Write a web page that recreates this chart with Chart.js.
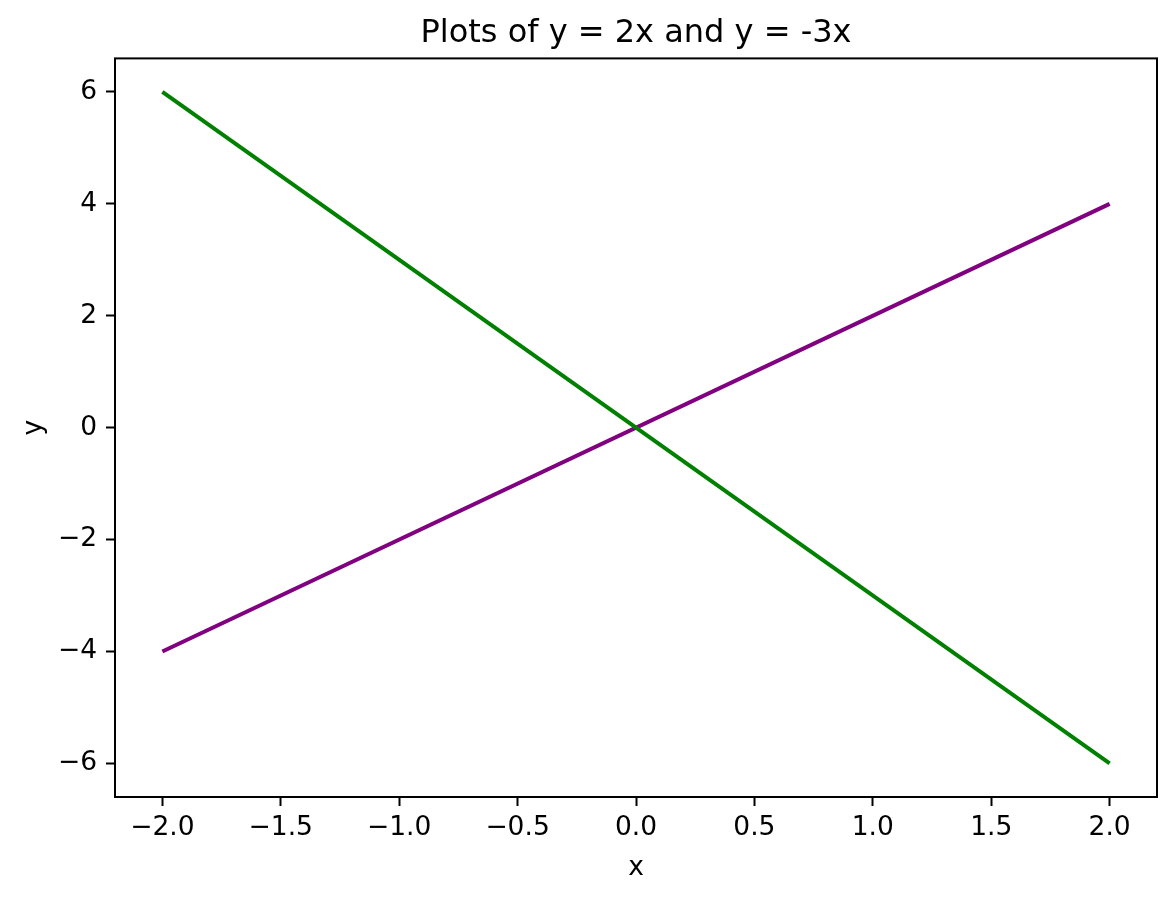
<!DOCTYPE html>
<html>
<head>
<meta charset="utf-8">
<script src="https://cdn.jsdelivr.net/npm/chart.js@4/dist/chart.umd.min.js"></script>
<style>
  html, body { margin: 0; padding: 0; background: #fff; }
  #wrap { width: 1176px; height: 900px; }
</style>
</head>
<body>
<div id="wrap"><canvas id="c" width="1176" height="900"></canvas></div>
<script>
// ---- data ----
const xValues = [-2, 2];
const yTwoX = [-4, 4];
const yMinusThreeX = [6, -6];
const xTicks = [-2.0, -1.5, -1.0, -0.5, 0.0, 0.5, 1.0, 1.5, 2.0];
const yTicks = [-6, -4, -2, 0, 2, 4, 6];
const xRange = [-2.2, 2.2];
const yRange = [-6.6, 6.6];
const titleText = 'Plots of y = 2x and y = -3x';
const xLabel = 'x';
const yLabel = 'y';

const FONT = 'DejaVu Sans';
const TICK_SIZE = 26.5;
Chart.defaults.font.family = FONT;
Chart.defaults.color = '#000';

function pts(xs, ys) { return xs.map((x, i) => ({ x: x, y: ys[i] })); }
function fmt(v, d) { return v.toFixed(d).replace('-', '\u2212'); }

const framePlugin = {
  id: 'frame',
  afterDatasetsDraw(chart) {
    const a = chart.chartArea, ctx = chart.ctx;
    ctx.save();
    ctx.strokeStyle = '#000';
    ctx.lineWidth = 2;
    ctx.strokeRect(a.left, a.top, a.right - a.left, a.bottom - a.top);
    ctx.restore();
  }
};

const tickGrid = {
  display: true,
  drawOnChartArea: false,
  drawTicks: true,
  tickLength: 9,
  tickWidth: 2,
  tickColor: '#000'
};

new Chart(document.getElementById('c'), {
  type: 'scatter',
  data: {
    datasets: [
      { label: 'y = 2x', data: pts(xValues, yTwoX), showLine: true, borderColor: '#800080',
        borderWidth: 4, pointRadius: 0, fill: false, order: 1 },
      { label: 'y = -3x', data: pts(xValues, yMinusThreeX), showLine: true, borderColor: '#008000',
        borderWidth: 4, pointRadius: 0, fill: false, order: 0 }
    ]
  },
  options: {
    responsive: false,
    animation: false,
    layout: { padding: { left: 0, right: 19, top: 0, bottom: 0 } },
    plugins: {
      legend: { display: false },
      tooltip: { enabled: false },
      title: {
        display: true,
        text: titleText,
        fullSize: false,
        font: { family: FONT, size: 32, weight: 'normal', lineHeight: 1.2 },
        color: '#000',
        padding: { top: 14, bottom: 6 }
      }
    },
    scales: {
      x: {
        type: 'linear',
        min: xRange[0], max: xRange[1],
        afterBuildTicks(s) { s.ticks = xTicks.map(v => ({ value: v })); },
        afterFit(s) { s.height = 103; },
        ticks: { font: { size: TICK_SIZE }, padding: 6, maxRotation: 0, autoSkip: false,
                 callback: v => fmt(v, 1) },
        grid: tickGrid,
        border: { display: false },
        title: { display: true, text: xLabel, font: { size: TICK_SIZE, lineHeight: 1.2 },
                 padding: { top: 0, bottom: 16 } }
      },
      y: {
        type: 'linear',
        min: yRange[0], max: yRange[1],
        afterBuildTicks(s) { s.ticks = yTicks.map(v => ({ value: v })); },
        afterFit(s) { s.width = 115; },
        ticks: { font: { size: TICK_SIZE }, padding: 9, autoSkip: false,
                 callback: v => fmt(v, 0) },
        grid: tickGrid,
        border: { display: false },
        title: { display: true, text: yLabel, font: { size: TICK_SIZE, lineHeight: 1.2 },
                 padding: { top: 18, bottom: 0 } }
      }
    }
  },
  plugins: [framePlugin]
});
</script>
</body>
</html>
